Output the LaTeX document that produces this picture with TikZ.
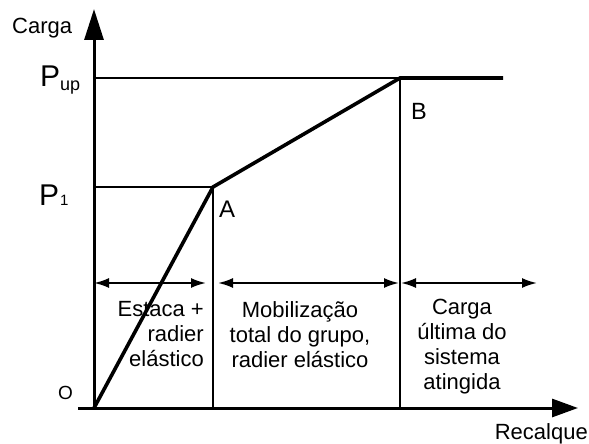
\documentclass[tikz,border=0pt]{standalone}
\usepackage{fontspec}
\setmainfont{Liberation Sans}
\usetikzlibrary{arrows.meta}
\begin{document}
\begin{tikzpicture}[x=1pt,y=-1pt,
  yaxis/.style={line width=3pt,-{Triangle[length=31pt,width=19pt]}},
  xaxis/.style={line width=3pt,-{Triangle[length=26pt,width=18pt]}},
  curve/.style={line width=3.6pt,line join=miter},
  thin/.style={line width=1.6pt},
  dim/.style={line width=2pt,{Latex[length=15pt,width=10pt]}-{Latex[length=15pt,width=10pt]}},
  lbl/.style={font=\fontsize{22}{26}\selectfont,inner sep=0pt},
  plbl/.style={font=\fontsize{30}{32}\selectfont,inner sep=0pt},
  txt/.style={font=\fontsize{22}{25}\selectfont,inner sep=0pt}]
\useasboundingbox (0,0) rectangle (589,444);
\coordinate (O) at (94,408);
\coordinate (Ox) at (78,408);
\coordinate (A) at (213,187);
\coordinate (B) at (400,78);
\coordinate (E) at (503,78);
\coordinate (ytop) at (94,9);
\coordinate (xend) at (578,408);
\coordinate (yA) at (94,187);
\coordinate (yB) at (94,78);
\coordinate (xA) at (213,408);
\coordinate (xB) at (400,408);
\draw[thin] (yB) -- (B);
\draw[thin] (yA) -- (A);
\draw[thin] (A) -- (xA);
\draw[thin] (B) -- (xB);
\draw[yaxis] (O) -- (ytop);
\draw[xaxis] (Ox) -- (xend);
\draw[curve] (O) -- (A) -- (B) -- (E);
\coordinate (d1a) at (94,283);
\coordinate (d1b) at (206,283);
\coordinate (d2a) at (218,283);
\coordinate (d2b) at (399,283);
\coordinate (d3a) at (401,283);
\coordinate (d3b) at (537,283);
\draw[dim] (d1a) -- (d1b);
\draw[dim] (d2a) -- (d2b);
\draw[dim] (d3a) -- (d3b);
\node[lbl,anchor=base west] (carga) at (12,34) {Carga};
\node[plbl,anchor=base west] (pup) at (40,86) {P\raisebox{-4pt}{\fontsize{18}{18}\selectfont up}};
\node[plbl,anchor=base west] (p1) at (39,205) {P\kern1pt{\fontsize{15}{15}\selectfont 1}};
\node[font=\fontsize{24}{26}\selectfont,inner sep=0pt,anchor=base west] (la) at (219,217) {A};
\node[font=\fontsize{23.5}{26}\selectfont,inner sep=0pt,anchor=base west] (lb) at (411,119) {B};
\node[font=\fontsize{19}{22}\selectfont,inner sep=0pt,anchor=base west] (lo) at (58,399) {O};
\node[lbl,anchor=base east] (rec) at (588,439) {Recalque};
\node[txt,anchor=north east,align=right] (t1) at (204,301) {Estaca +\\radier\\elástico};
\node[txt,anchor=north,align=center] (t2) at (300,301) {Mobilização\\total do grupo,\\radier elástico};
\node[txt,anchor=north,align=center] (t3) at (462,299) {Carga\\última do\\sistema\\atingida};
\end{tikzpicture}
\end{document}
